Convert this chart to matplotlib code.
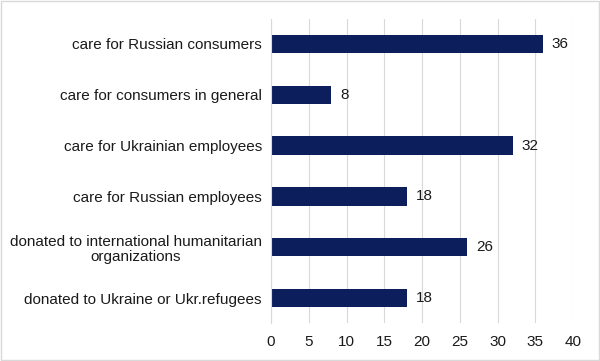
import matplotlib
matplotlib.use("Agg")
import matplotlib.pyplot as plt

categories = [
    "care for Russian consumers",
    "care for consumers in general",
    "care for Ukrainian employees",
    "care for Russian employees",
    "donated to international humanitarian\norganizations",
    "donated to Ukraine or Ukr.refugees",
]
values = [36, 8, 32, 18, 26, 18]
xticks = [0, 5, 10, 15, 20, 25, 30, 35, 40]

plt.rcParams['font.family'] = ['Liberation Sans', 'DejaVu Sans']

fig = plt.figure(figsize=(6, 3.61), dpi=100)
ax = fig.add_axes([0.4517, 0.104, 0.5033, 0.8445])
ypos = list(range(len(categories)))
ax.barh(ypos, values, height=0.36, color='#0c1f5c', zorder=3)
ax.set_ylim(len(categories) - 0.5, -0.5)
ax.set_xlim(0, 40)
ax.set_xticks(xticks)
ax.set_yticks(ypos)
ax.set_yticklabels(categories, fontsize=11, color='#1a1a1a', ha='right',
                   multialignment='center', linespacing=1.1)
ax.tick_params(axis='y', length=0, pad=6.5)
ax.tick_params(axis='x', length=0, labelsize=11, labelcolor='#1a1a1a', pad=8)
ax.grid(axis='x', color='#d9d9d9', linewidth=0.8, zorder=0)
for s in ['top', 'right', 'bottom']:
    ax.spines[s].set_visible(False)
ax.spines['left'].set_color('#d9d9d9')
ax.spines['left'].set_zorder(4)
for y, v in zip(ypos, values):
    ax.text(v + 1.2, y, str(v), va='center', ha='left', fontsize=11, color='#1a1a1a')

fig.patches.append(plt.Rectangle((0.001, 0.002), 0.997, 0.995, transform=fig.transFigure,
                                 fill=False, edgecolor='#d9d9d9', linewidth=1))
fig.savefig('out.png', dpi=100)
